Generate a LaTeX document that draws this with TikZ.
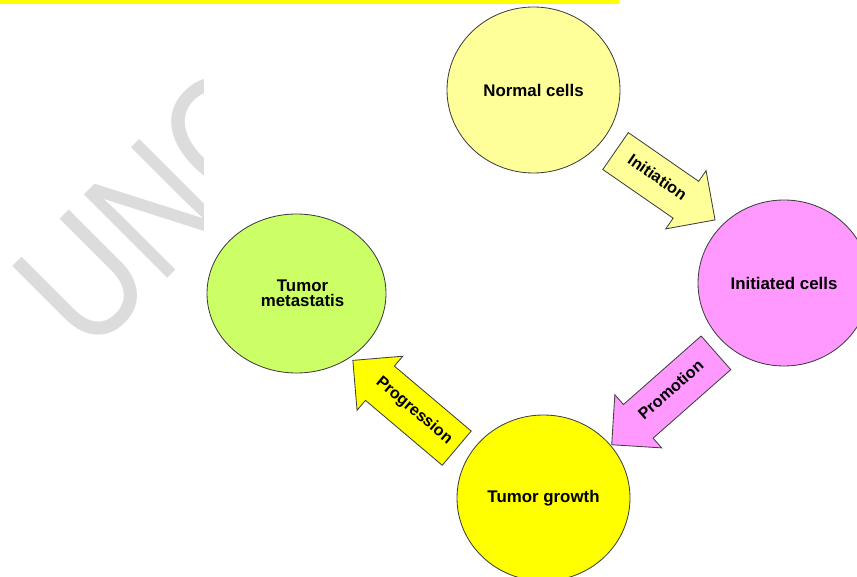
\documentclass[tikz,border=0pt]{standalone}
\usepackage{fontspec}
\setmainfont{Liberation Sans}
\usepackage{xcolor}
\usepackage{tikz}
\usetikzlibrary{shapes.geometric, shapes.arrows, calc}

\definecolor{cellyellow}{HTML}{FFFF99}
\definecolor{cellpink}{HTML}{FF99FF}
\definecolor{tumoryellow}{HTML}{FFFF00}
\definecolor{tumorgreen}{HTML}{CCFF66}
\definecolor{markgray}{HTML}{DCDCDC}

\tikzset{
	cell/.style={ellipse, draw=black!75, line width=0.6pt, inner sep=0pt,
		font=\fontsize{12}{11}\selectfont\bfseries, align=center},
	stage/.style={single arrow, draw=black!75, line width=0.6pt,
		single arrow tip angle=90, single arrow head extend=0.325cm,
		minimum width=1.75cm, inner xsep=1pt, inner ysep=4mm,
		text height=2.3mm, text depth=0.7mm, font=\fontsize{11.5}{11.5}\selectfont\bfseries}
}

\begin{document}
\begin{tikzpicture}
	\useasboundingbox (0,0) rectangle (21.425,14.4);
	\fill[tumoryellow] (0,14.3) rectangle (15.475,14.4);
	\begin{scope}
		\clip (0,0) rectangle (5.075,14.4);
		\node[markgray, anchor=base west, inner sep=0pt, rotate=45, xscale=0.82,
			font=\fontsize{122}{122}\selectfont] (mark) at (2.2,5.45) {UNC};
	\end{scope}
	\node[cell, fill=cellyellow, minimum width=4.325cm, minimum height=4.15cm] (normal) at (13.3375,12.15) {Normal cells};
	\node[cell, fill=cellpink, minimum width=4.3cm, minimum height=4.15cm] (initiated) at (19.6,7.325) {Initiated cells};
	\node[cell, fill=tumoryellow, minimum width=4.325cm, minimum height=4.15cm] (growth) at (13.5875,1.95) {Tumor growth};
	\node[cell, fill=tumorgreen, minimum width=4.475cm, minimum height=3.975cm] (metastatis) at (7.4125,7.0625) {\hspace*{0.3cm}Tumor\\\hspace*{0.3cm}metastatis};
	\node[stage, fill=cellyellow, minimum height=3.025cm, rotate=-34.7]
		(initiation) at ($(normal)!0.5!(initiated)+(-0.067,0.185)$) {Initiation};
	\node[stage, fill=cellpink, minimum height=3.475cm, rotate=41.4, shape border rotate=180]
		(promotion) at ($(initiated)!0.5!(growth)+(0.212,-0.022)$) {Promotion};
	\node[stage, fill=tumoryellow, minimum height=3.4cm, rotate=-40.2, shape border rotate=180]
		(progression) at ($(growth)!0.5!(metastatis)+(-0.166,-0.394)$) {Progression};
\end{tikzpicture}
\end{document}
